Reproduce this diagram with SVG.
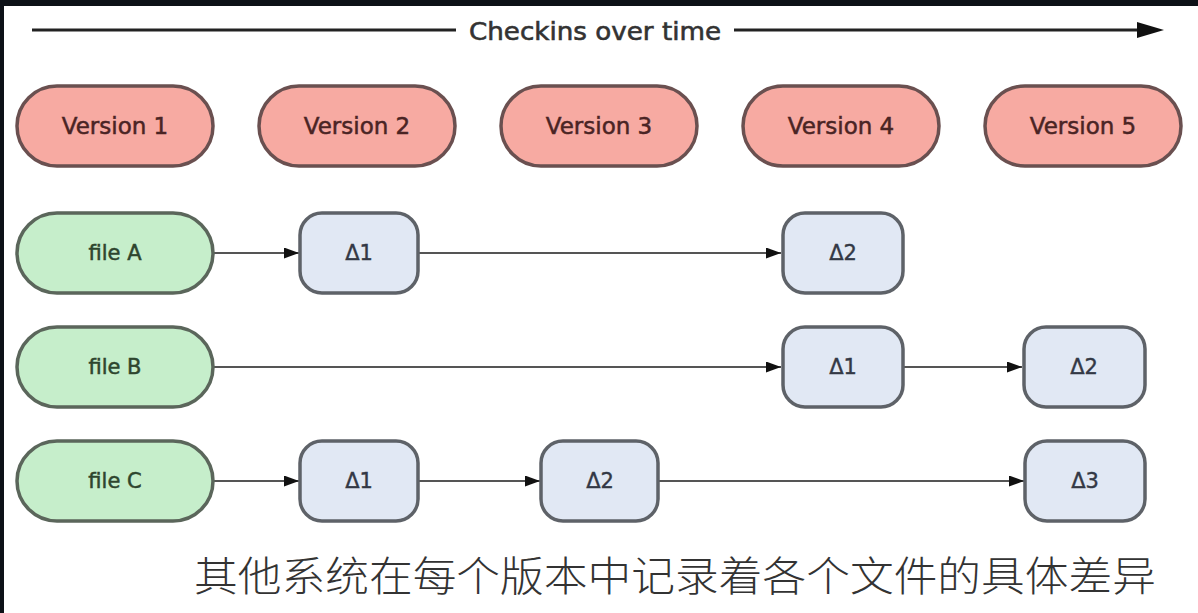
<svg xmlns="http://www.w3.org/2000/svg" width="1198" height="613" viewBox="0 0 1198 613">
<defs>
<style>
.ver rect{fill:#f7aaa2;stroke:#6a5050;stroke-width:3.5}
.ver text{fill:#4a2424;stroke:#4a2424;stroke-width:0.5;font-family:"DejaVu Sans","Liberation Sans",sans-serif;font-size:23px;text-anchor:middle}
.file rect{fill:#c6eecb;stroke:#5b665b;stroke-width:3.5}
.file text{fill:#2e452e;stroke:#2e452e;stroke-width:0.5;font-family:"DejaVu Sans","Liberation Sans",sans-serif;font-size:21px;text-anchor:middle}
.delta rect{fill:#e1e8f4;stroke:#5e6268;stroke-width:3.5}
.delta text{fill:#333845;stroke:#333845;stroke-width:0.4;font-family:"DejaVu Sans","Liberation Sans",sans-serif;font-size:21px;text-anchor:middle}
.edge{stroke:#555;stroke-width:2;fill:none;marker-end:url(#ah)}
</style>
<marker id="ah" viewBox="0 0 10 10" refX="10" refY="5" markerWidth="7.5" markerHeight="5.5" markerUnits="strokeWidth" orient="auto" preserveAspectRatio="none">
<path d="M0,0 L10,5 L0,10 Z" fill="#111"/>
</marker>
</defs>
<rect x="0" y="0" width="1198" height="613" fill="#ffffff"/>
<rect x="0" y="0" width="1198" height="6" fill="#0d1117"/>
<rect x="0" y="0" width="4" height="613" fill="#0d1117"/>

<g id="timeline">
<line x1="32" y1="30" x2="456" y2="30" stroke="#222" stroke-width="3"/>
<line x1="734" y1="30" x2="1140" y2="30" stroke="#222" stroke-width="3"/>
<path d="M1137,22 L1164,30 L1137,38 Z" fill="#111"/>
<text x="595" y="40" font-family="DejaVu Sans,'Liberation Sans',sans-serif" font-size="25" fill="#333" stroke="#333" stroke-width="0.6" text-anchor="middle" textLength="252" lengthAdjust="spacingAndGlyphs">Checkins over time</text>
</g>

<g id="v1" class="ver"><rect x="17" y="86" width="196" height="80" rx="40"/><text x="115" y="134">Version 1</text></g>
<g id="v2" class="ver"><rect x="259" y="86" width="196" height="80" rx="40"/><text x="357" y="134">Version 2</text></g>
<g id="v3" class="ver"><rect x="501" y="86" width="196" height="80" rx="40"/><text x="599" y="134">Version 3</text></g>
<g id="v4" class="ver"><rect x="743" y="86" width="196" height="80" rx="40"/><text x="841" y="134">Version 4</text></g>
<g id="v5" class="ver"><rect x="985" y="86" width="196" height="80" rx="40"/><text x="1083" y="134">Version 5</text></g>

<g id="connectors">
<line class="edge" x1="213" y1="253" x2="299" y2="253"/>
<line class="edge" x1="418" y1="253" x2="781" y2="253"/>
<line class="edge" x1="213" y1="367" x2="781" y2="367"/>
<line class="edge" x1="904" y1="367" x2="1022" y2="367"/>
<line class="edge" x1="213" y1="481" x2="299" y2="481"/>
<line class="edge" x1="418" y1="481" x2="540" y2="481"/>
<line class="edge" x1="658" y1="481" x2="1024" y2="481"/>
</g>

<g id="fileA" class="file"><rect x="17" y="213" width="196" height="80" rx="40"/><text x="115" y="260">file A</text></g>
<g id="fileB" class="file"><rect x="17" y="327" width="196" height="80" rx="40"/><text x="115" y="374">file B</text></g>
<g id="fileC" class="file"><rect x="17" y="441" width="196" height="80" rx="40"/><text x="115" y="488">file C</text></g>

<g id="a1" class="delta"><rect x="300" y="213" width="118" height="80" rx="22"/><text x="359" y="260">Δ1</text></g>
<g id="a2" class="delta"><rect x="783" y="213" width="120" height="80" rx="22"/><text x="843" y="260">Δ2</text></g>
<g id="b1" class="delta"><rect x="783" y="327" width="120" height="80" rx="22"/><text x="843" y="374">Δ1</text></g>
<g id="b2" class="delta"><rect x="1024" y="327" width="121" height="80" rx="22"/><text x="1084" y="374">Δ2</text></g>
<g id="c1" class="delta"><rect x="300" y="441" width="118" height="80" rx="22"/><text x="359" y="488">Δ1</text></g>
<g id="c2" class="delta"><rect x="541" y="441" width="117" height="80" rx="22"/><text x="600" y="488">Δ2</text></g>
<g id="c3" class="delta"><rect x="1025" y="441" width="120" height="80" rx="22"/><text x="1085" y="488">Δ3</text></g>

<text id="caption" x="675" y="591" font-family="'Noto Sans CJK SC','Liberation Sans',sans-serif" font-size="41" font-weight="300" fill="#333" text-anchor="middle" textLength="962" lengthAdjust="spacingAndGlyphs">其他系统在每个版本中记录着各个文件的具体差异</text>
</svg>
